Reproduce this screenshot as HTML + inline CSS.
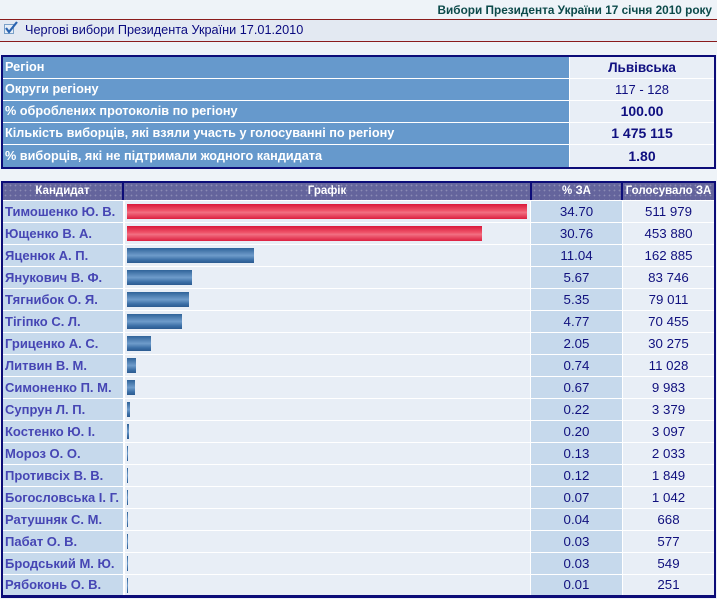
<!DOCTYPE html>
<html><head><meta charset="utf-8">
<style>
*{margin:0;padding:0;box-sizing:border-box}
html,body{width:717px;height:599px;overflow:hidden;background:#eef3f8}
body{position:relative;font-family:"Liberation Sans","DejaVu Sans",sans-serif}
.a{position:absolute}
.title{right:5px;top:2px;font-size:11.8px;font-weight:bold;color:#0c4a4a;line-height:16px;white-space:nowrap}
.rl{left:0;width:717px;height:1px;background:#8a1c1c}
.band{left:0;top:20px;width:717px;height:21px;background:#e3e9f2}
.bandt{left:25px;top:20px;line-height:21px;font-size:12.7px;color:#0a0a80;white-space:nowrap}
.box{background:#0c0c78}
.lab{background:#6699cc;color:#fff;font-weight:bold;font-size:12.7px;padding-left:2px;white-space:nowrap}
.val{background:#e8eef6;color:#0f0f80;text-align:center;white-space:nowrap}
.hd{background:#64649c;color:#fff;font-weight:bold;font-size:11.5px;text-align:center;line-height:17px;white-space:nowrap;
background-image:radial-gradient(circle,rgba(255,255,255,.25) 0.7px,transparent 1px);background-size:5px 5px}
.nm{background:#c6d9ec;color:#4646b4;font-weight:bold;font-size:13px;padding-left:2px;white-space:nowrap;overflow:hidden}
.gr{background:#e8eef6}
.pc{background:#c6d9ec;color:#10107e;font-size:13.3px;text-align:center}
.vt{background:#e8eef6;color:#10107e;font-size:13.3px;text-align:center}
.red{background:linear-gradient(#d9183a,#f0566c 45%,#f27082 55%,#dc1f3f)}
.blu{background:linear-gradient(#2f6399,#6f9ccb 50%,#3a6ea6 80%,#2c5b90)}
</style></head><body>
<div class="a title">Вибори Президента України 17 січня 2010 року</div>
<div class="a rl" style="top:19px"></div>
<div class="a band"></div>
<div class="a rl" style="top:41px"></div>
<svg class="a" style="left:3px;top:20px" width="16" height="16" viewBox="0 0 16 16">
<rect x="1.5" y="4.5" width="9" height="9" fill="#e6eef8" stroke="#7aa0c8" stroke-width="1"/>
<path d="M3 8 L6 12 L14 2" fill="none" stroke="#2a64b0" stroke-width="2.2"/>
</svg>
<div class="a bandt">Чергові вибори Президента України 17.01.2010</div>

<!-- info table -->
<div class="a box" style="left:1px;top:55px;width:715px;height:114px"></div>
<div class="a" style="left:3px;top:57px;width:711px;height:110px;background:#fff"></div>

<div class="a lab" style="left:3px;top:57px;width:566px;height:21px;line-height:21px">Регіон</div>
<div class="a val" style="left:570px;top:57px;width:144px;height:21px;line-height:21px;font-weight:bold;font-size:13.5px">Львівська</div>

<div class="a lab" style="left:3px;top:79px;width:566px;height:21px;line-height:21px">Округи регіону</div>
<div class="a val" style="left:570px;top:79px;width:144px;height:21px;line-height:21px;font-size:13px">117 - 128</div>

<div class="a lab" style="left:3px;top:101px;width:566px;height:21px;line-height:21px">% оброблених протоколів по регіону</div>
<div class="a val" style="left:570px;top:101px;width:144px;height:21px;line-height:21px;font-weight:bold;font-size:14px">100.00</div>

<div class="a lab" style="left:3px;top:123px;width:566px;height:21px;line-height:21px">Кількість виборців, які взяли участь у голосуванні по регіону</div>
<div class="a val" style="left:570px;top:123px;width:144px;height:21px;line-height:21px;font-weight:bold;font-size:14px">1 475 115</div>

<div class="a lab" style="left:3px;top:145px;width:566px;height:22px;line-height:22px">% виборців, які не підтримали жодного кандидата</div>
<div class="a val" style="left:570px;top:145px;width:144px;height:22px;line-height:22px;font-weight:bold;font-size:14px">1.80</div>

<!-- candidates table -->
<div class="a box" style="left:1px;top:181px;width:715px;height:417px"></div>
<div class="a" style="left:3px;top:200px;width:711px;height:395px;background:#fff"></div>
<div class="a hd" style="left:3px;top:183px;width:119px;height:17px">Кандидат</div>
<div class="a hd" style="left:124px;top:183px;width:406px;height:17px">Графік</div>
<div class="a hd" style="left:532px;top:183px;width:89px;height:17px">% ЗА</div>
<div class="a hd" style="left:623px;top:183px;width:91px;height:17px">Голосувало ЗА</div>

<div id="rows"></div>
<script>
var d=[["Тимошенко Ю. В.","34.70","511 979",1],["Ющенко В. А.","30.76","453 880",1],["Яценюк А. П.","11.04","162 885",0],["Янукович В. Ф.","5.67","83 746",0],["Тягнибок О. Я.","5.35","79 011",0],["Тігіпко С. Л.","4.77","70 455",0],["Гриценко А. С.","2.05","30 275",0],["Литвин В. М.","0.74","11 028",0],["Симоненко П. М.","0.67","9 983",0],["Супрун Л. П.","0.22","3 379",0],["Костенко Ю. І.","0.20","3 097",0],["Мороз О. О.","0.13","2 033",0],["Противсіх В. В.","0.12","1 849",0],["Богословська І. Г.","0.07","1 042",0],["Ратушняк С. М.","0.04","668",0],["Пабат О. В.","0.03","577",0],["Бродський М. Ю.","0.03","549",0],["Рябоконь О. В.","0.01","251",0]];
var h="";
for(var i=0;i<d.length;i++){
 var t=201+22*i, hh=(i==d.length-1)?20:21;
 var w=Math.max(1,Math.round(parseFloat(d[i][1])*400/34.70));
 h+='<div class="a nm" style="left:3px;top:'+t+'px;width:120px;height:'+hh+'px;line-height:'+hh+'px">'+d[i][0]+'</div>';
 h+='<div class="a gr" style="left:125px;top:'+t+'px;width:405px;height:'+hh+'px"></div>';
 h+='<div class="a '+(d[i][3]?'red':'blu')+'" style="left:127px;top:'+(t+3)+'px;width:'+w+'px;height:15px"></div>';
 h+='<div class="a pc" style="left:531px;top:'+t+'px;width:91px;height:'+hh+'px;line-height:'+hh+'px">'+d[i][1]+'</div>';
 h+='<div class="a vt" style="left:623px;top:'+t+'px;width:91px;height:'+hh+'px;line-height:'+hh+'px">'+d[i][2]+'</div>';
}
document.getElementById("rows").innerHTML=h;
</script>
</body></html>
